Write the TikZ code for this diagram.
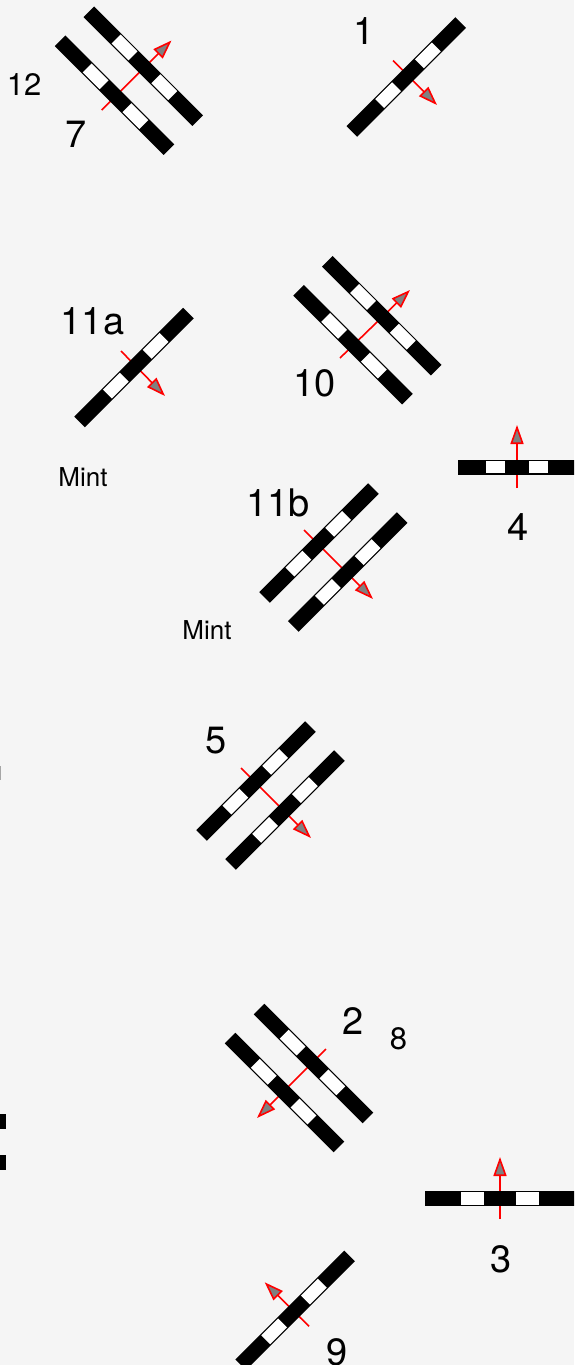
\documentclass[tikz,border=0pt]{standalone}
\usepackage{fontspec}
\setmainfont{TeX Gyre Heros}
\usetikzlibrary{arrows.meta}

\tikzset{
  elemarrow/.style={draw=red, line width=1.6pt, -{Triangle[length=19pt, width=13pt, fill=gray]}},
  biglabel/.style={font=\fontsize{38}{40}\selectfont},
  midlabel/.style={font=\fontsize{31}{33}\selectfont},
  smalllabel/.style={font=\fontsize{26}{28}\selectfont},
}

% one element: centre x, centre y, angle, half length, shift of the white parts
\newcommand{\elembar}[5]{%
  \begin{scope}[shift={(#1,#2)}, rotate=#3]
    \fill[black] (-#4,-7.5) rectangle (#4,7.5);
    \fill[white] ({-0.52*#4+#5},-6.3) rectangle ({-0.21*#4+#5},6.3);
    \fill[white] ({0.21*#4+#5},-6.3) rectangle ({0.52*#4+#5},6.3);
  \end{scope}
}

\begin{document}
\begin{tikzpicture}[x=1pt, y=-1pt]
  \useasboundingbox (0,0) rectangle (574,1365);
  \clip (0,0) rectangle (574,1365);
  \fill[black!4] (0,0) rectangle (574,1365);

  % direction arrows, under the bars
  \coordinate (a12s) at (101.7,110);   \coordinate (a12t) at (171.5,40.5);
  \coordinate (a1s) at (393,60.5);     \coordinate (a1t) at (437,105);
  \coordinate (a11as) at (121,351);    \coordinate (a11at) at (165,396);
  \coordinate (a10s) at (340,358);     \coordinate (a10t) at (410,290);
  \coordinate (a4s) at (517,488);      \coordinate (a4t) at (517,425);
  \coordinate (a11bs) at (304,530);    \coordinate (a11bt) at (373,599);
  \coordinate (a5s) at (241,768);      \coordinate (a5t) at (311,838);
  \coordinate (a2s) at (326,1049);     \coordinate (a2t) at (257,1118);
  \coordinate (a3s) at (500,1219);     \coordinate (a3t) at (500,1157);
  \coordinate (a9s) at (309,1326.3);   \coordinate (a9t) at (264.7,1282.3);
  \draw[elemarrow] (a12s) -- (a12t);
  \draw[elemarrow] (a1s) -- (a1t);
  \draw[elemarrow] (a11as) -- (a11at);
  \draw[elemarrow] (a10s) -- (a10t);
  \draw[elemarrow] (a4s) -- (a4t);
  \draw[elemarrow] (a11bs) -- (a11bt);
  \draw[elemarrow] (a5s) -- (a5t);
  \draw[elemarrow] (a2s) -- (a2t);
  \draw[elemarrow] (a3s) -- (a3t);
  \draw[elemarrow] (a9s) -- (a9t);

  % bars
  \elembar{143.3}{66.2}{-45}{77}{1.6}
  \elembar{114.5}{95.2}{-45}{77}{1.4}
  \elembar{406.3}{77}{45}{77}{2.4}
  \elembar{134}{367.5}{45}{77}{2.4}
  \elembar{381.8}{315.7}{-45}{77}{1.6}
  \elembar{353}{344.7}{-45}{77}{1.4}
  \elembar{517}{467}{0}{59}{0}
  \elembar{319}{543}{45}{77}{-1}
  \elembar{347.7}{572}{45}{77}{0}
  \elembar{256}{781}{45}{77}{-1}
  \elembar{285}{810}{45}{77}{0}
  \elembar{313.5}{1063.5}{-45}{77}{-1.5}
  \elembar{284.5}{1092.5}{-45}{77}{-1.3}
  \elembar{500}{1198.4}{0}{75.5}{0}
  \elembar{295.1}{1310.4}{45}{77}{-1.5}

  % stubs at the left edge
  \fill[black!35] (0,766) rectangle (1.2,780);
  \fill[black] (0,1114) rectangle (5.5,1129);
  \fill[black] (0,1155) rectangle (5.5,1170);

  % labels
  \node[midlabel] (l12) at (24,85) {12};
  \node[biglabel] (l7) at (76,134) {7};
  \node[biglabel] (l1) at (364,31) {1};
  \node[biglabel] (l11a) at (92.5,321) {11a};
  \node[biglabel] (l10) at (314.5,383) {10};
  \node[smalllabel] (mint1) at (83,477) {Mint};
  \node[biglabel] (l4) at (518,527) {4};
  \node[biglabel] (l11b) at (278,503) {11b};
  \node[smalllabel] (mint2) at (207,630) {Mint};
  \node[biglabel] (l5) at (216,741) {5};
  \node[biglabel] (l2) at (353,1021) {2};
  \node[midlabel] (l8) at (398.5,1039) {8};
  \node[biglabel] (l3) at (501,1259) {3};
  \node[biglabel] (l9) at (337.5,1352) {9};
\end{tikzpicture}
\end{document}
